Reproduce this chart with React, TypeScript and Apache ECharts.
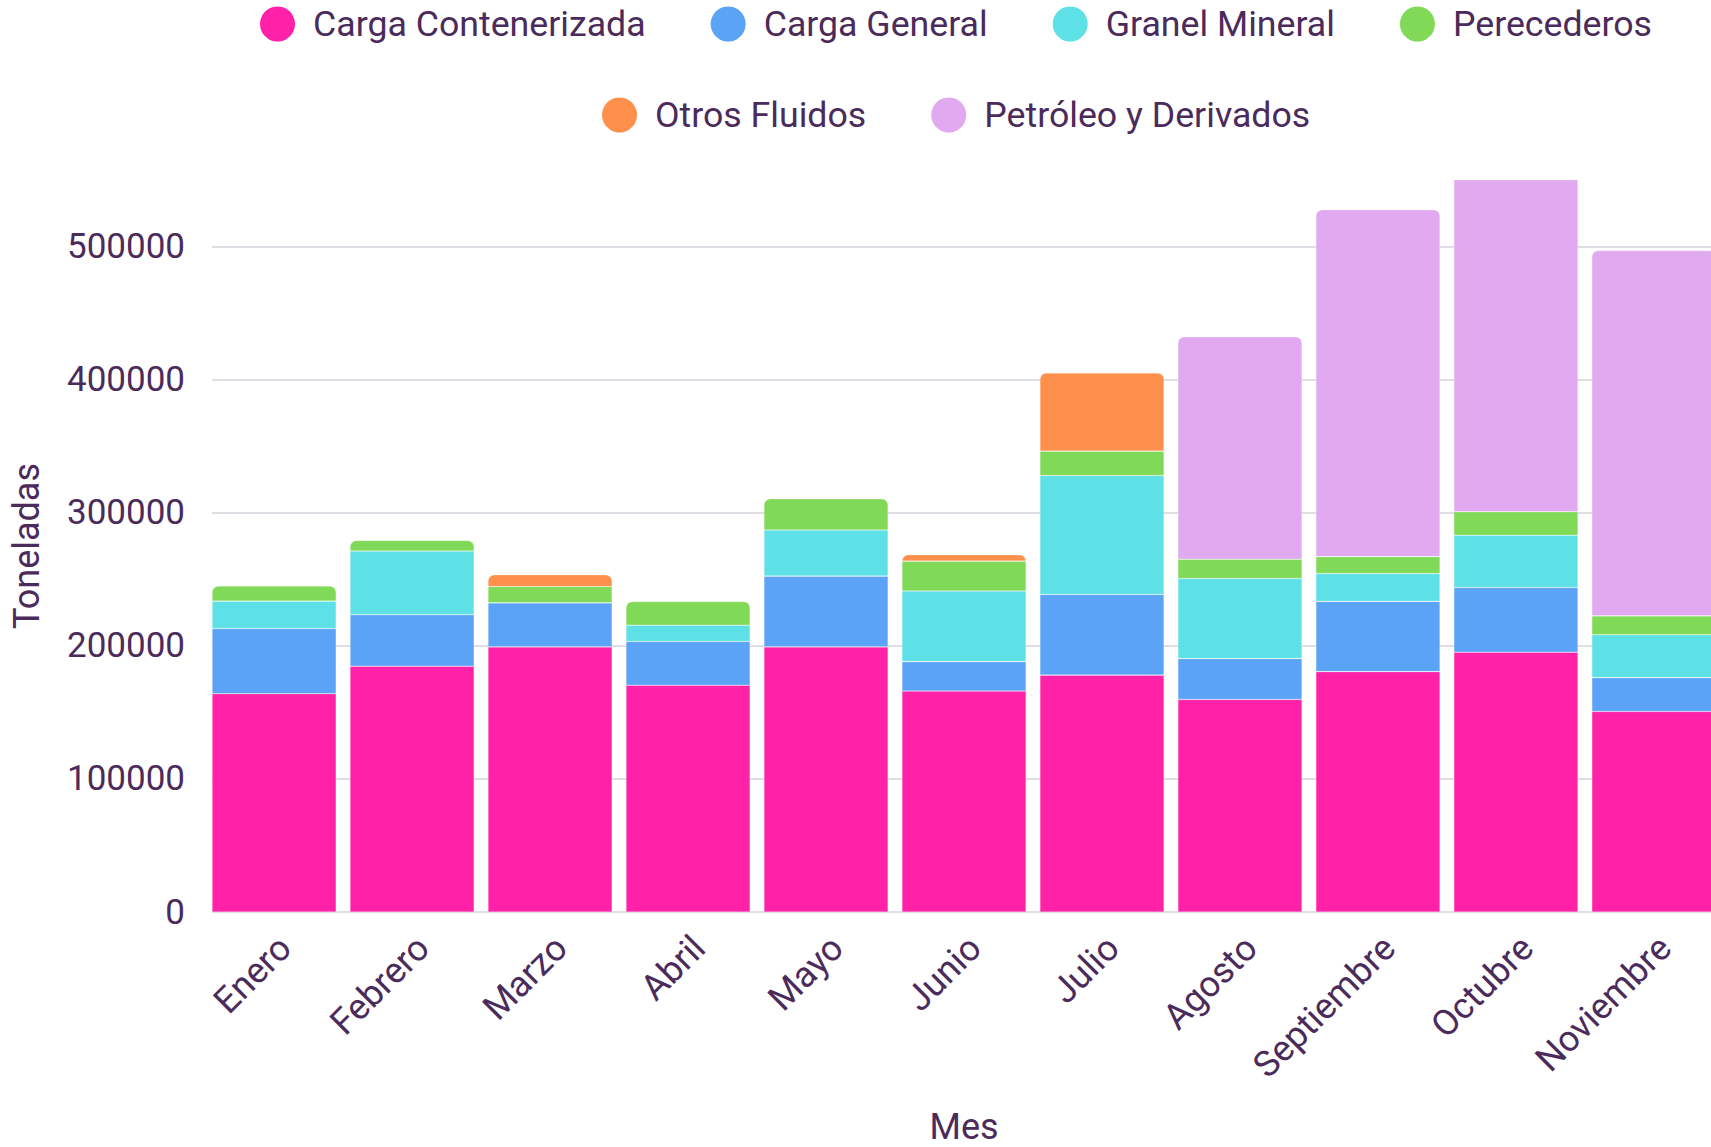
import React, { useEffect, useRef } from 'react';
import * as echarts from 'echarts';

const months = ['Enero', 'Febrero', 'Marzo', 'Abril', 'Mayo', 'Junio', 'Julio', 'Agosto', 'Septiembre', 'Octubre', 'Noviembre'];
const seriesNames = ['Carga Contenerizada', 'Carga General', 'Granel Mineral', 'Perecederos', 'Otros Fluidos', 'Petróleo y Derivados'];
const seriesColors = ['#ff21a8', '#5ba3f6', '#5ee1e6', '#80d957', '#ff904c', '#e1a9ef'];

const cargaContenerizada = [164000, 184700, 199200, 170400, 199200, 166000, 178000, 159700, 180600, 195200, 150700];
const cargaGeneral = [49000, 38600, 33100, 32900, 53200, 22100, 60600, 30700, 52800, 48600, 25400];
const granelMineral = [20600, 47900, 0, 12200, 34600, 53100, 89400, 60200, 20900, 39300, 32200];
const perecederos = [11300, 8000, 12300, 17800, 23500, 22400, 18300, 14500, 12700, 17600, 14200];
const otrosFluidos = [0, 0, 8800, 0, 0, 4900, 58700, 0, 0, 0, 0];
const petroleoDerivados = [0, 0, 0, 0, 0, 0, 0, 167200, 260700, 300000, 274500];

const yMin = 0;
const yMax = 550000;
const yInterval = 100000;

const TEXT = '#4b2b5b';
const FONT = 'Roboto';

export default function App() {
  const ref = useRef<HTMLDivElement>(null);

  useEffect(() => {
    if (!ref.current) return;
    const chart = echarts.init(ref.current, undefined, { renderer: 'svg' });
    const all = [cargaContenerizada, cargaGeneral, granelMineral, perecederos, otrosFluidos, petroleoDerivados];
    const topIndex = months.map((_, i) => {
      let t = 0;
      all.forEach((arr, s) => { if (arr[i] > 0) t = s; });
      return t;
    });
    const totals = months.map((_, i) => all.reduce((acc, arr) => acc + arr[i], 0));
    const series = all.map((arr, s) => ({
      name: seriesNames[s],
      type: 'bar',
      stack: 'total',
      xAxisIndex: 0,
      yAxisIndex: 0,
      barCategoryGap: '10%',
      itemStyle: { color: seriesColors[s], borderColor: 'rgba(255,255,255,0.35)', borderWidth: 0.6 },
      data: arr.map((v, i) => {
        if (v === 0) return '-';
        if (topIndex[i] === s && totals[i] <= yMax) return { value: v, itemStyle: { borderRadius: [6, 6, 0, 0] } };
        return v;
      }),
    }));

    const legendCommon = {
      icon: 'circle',
      itemWidth: 35,
      itemHeight: 35,
      itemGap: 65,
      padding: 0,
      orient: 'horizontal',
      itemStyle: { borderWidth: 0 },
      textStyle: { fontSize: 35.7, color: TEXT, fontFamily: FONT, padding: [0, 0, 0, 13] },
    };

    const barLeft = 205.1;
    const barWidth = 1517.8;
    const gridCommon = { top: 180, bottom: 235, containLabel: false, outerBoundsMode: 'none' };

    chart.setOption({
      animation: false,
      backgroundColor: '#ffffff',
      textStyle: { fontFamily: FONT },
      legend: [
        { ...legendCommon, data: seriesNames.slice(0, 4), left: 260, top: 6 },
        { ...legendCommon, data: seriesNames.slice(4), left: 602, top: 97 },
      ],
      grid: [
        { ...gridCommon, left: barLeft, width: barWidth },
        { ...gridCommon, left: 212, width: 1504 },
        { ...gridCommon, left: barLeft + 11, width: barWidth },
      ],
      xAxis: [
        {
          type: 'category',
          gridIndex: 0,
          data: months,
          axisLine: { show: false },
          axisTick: { show: false },
          axisLabel: { show: false },
          name: 'Mes',
          nameLocation: 'middle',
          nameGap: 200,
          nameTextStyle: { fontSize: 36, lineHeight: 30, color: TEXT, fontFamily: FONT },
        },
        { type: 'value', gridIndex: 1, min: 0, max: 1, show: false },
        {
          type: 'category',
          gridIndex: 2,
          data: months,
          axisLine: { show: false },
          axisTick: { show: false },
          axisLabel: { rotate: 45, fontSize: 36, color: TEXT, fontFamily: FONT, margin: 30, interval: 0 },
        },
      ],
      yAxis: [
        { type: 'value', gridIndex: 0, min: yMin, max: yMax, show: false, splitLine: { show: false } },
        {
          type: 'value',
          gridIndex: 1,
          min: yMin,
          max: yMax,
          interval: yInterval,
          axisLine: { show: false },
          axisTick: { show: false },
          axisLabel: {
            fontSize: 35,
            color: TEXT,
            fontFamily: FONT,
            margin: 27,
            showMaxLabel: false,
            formatter: (v: number) => String(v),
          },
          splitLine: { show: true, showMaxLine: false, lineStyle: { color: '#e2dce5', width: 2 } },
          name: 'Toneladas',
          nameLocation: 'middle',
          nameGap: 167,
          nameTextStyle: { fontSize: 36, color: TEXT, fontFamily: FONT },
        },
        { type: 'value', gridIndex: 2, min: yMin, max: yMax, show: false, splitLine: { show: false } },
      ],
      series,
    });
    return () => chart.dispose();
  }, []);

  return (
    <div
      ref={ref}
      style={{ position: 'absolute', left: 0, top: 0, width: 1711, height: 1147, overflow: 'hidden' }}
    />
  );
}
